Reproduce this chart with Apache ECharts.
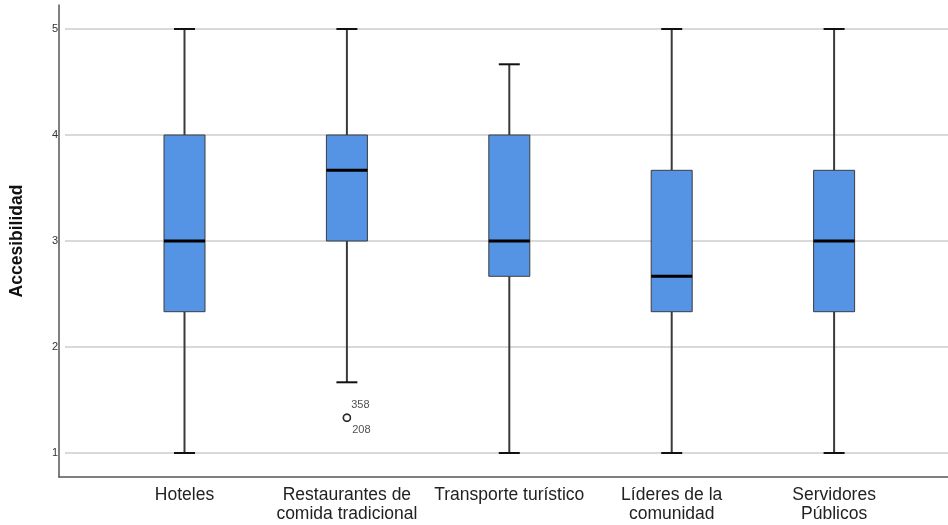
<!DOCTYPE html>
<html>
<head>
<meta charset="utf-8">
<script src="https://cdn.jsdelivr.net/npm/echarts@6/dist/echarts.min.js"></script>
<style>
  html, body { margin: 0; padding: 0; background: #fff; }
  #chart { width: 948px; height: 525px; }
</style>
</head>
<body>
<div id="chart"></div>
<script>
// Categories along the horizontal axis
const categories = [
  'Hoteles',
  'Restaurantes de\ncomida tradicional',
  'Transporte turístico',
  'Líderes de la\ncomunidad',
  'Servidores\nPúblicos'
];

// Five-number summaries per category
const whiskerLow  = [1, 1.667, 1, 1, 1];
const quartile1   = [2.333, 3, 2.667, 2.333, 2.333];
const medianVals  = [3, 3.667, 3, 2.667, 3];
const quartile3   = [4, 4, 4, 3.667, 3.667];
const whiskerHigh = [5, 5, 4.667, 5, 5];

// Outlying cases (category, value, case number)
const outlierCategory = ['Restaurantes de\ncomida tradicional', 'Restaurantes de\ncomida tradicional'];
const outlierValue = [1.333, 1.333];
const outlierCase = ['358', '208'];

// Value axis ticks
const yTicks = [1, 2, 3, 4, 5];

const FONT = "'Liberation Sans', Arial, sans-serif";
const BOX_FILL = '#5594e4';

const boxData = categories.map((c, i) => [i, whiskerLow[i], quartile1[i], medianVals[i], quartile3[i], whiskerHigh[i]]);

function renderBox(params, api) {
  const idx = api.value(0);
  const pLow = api.coord([idx, api.value(1)]);
  const pQ1 = api.coord([idx, api.value(2)]);
  const pMed = api.coord([idx, api.value(3)]);
  const pQ3 = api.coord([idx, api.value(4)]);
  const pHigh = api.coord([idx, api.value(5)]);
  const cx = pLow[0];
  const bw = 41, cw = 21;
  const whisker = { stroke: '#3a3a3a', lineWidth: 2 };
  const cap = { stroke: '#111', lineWidth: 2 };
  return {
    type: 'group',
    children: [
      { type: 'line', shape: { x1: cx, y1: pHigh[1], x2: cx, y2: pQ3[1] }, style: whisker },
      { type: 'line', shape: { x1: cx, y1: pQ1[1], x2: cx, y2: pLow[1] }, style: whisker },
      { type: 'line', shape: { x1: cx - cw / 2, y1: pHigh[1], x2: cx + cw / 2, y2: pHigh[1] }, style: cap },
      { type: 'line', shape: { x1: cx - cw / 2, y1: pLow[1], x2: cx + cw / 2, y2: pLow[1] }, style: cap },
      { type: 'rect', shape: { x: cx - bw / 2, y: pQ3[1], width: bw, height: pQ1[1] - pQ3[1] },
        style: { fill: BOX_FILL, stroke: '#3c3c3c', lineWidth: 1 } },
      { type: 'line', shape: { x1: cx - bw / 2, y1: pMed[1], x2: cx + bw / 2, y2: pMed[1] },
        style: { stroke: '#000', lineWidth: 3 } }
    ]
  };
}

const outlierData = outlierCategory.map((c, i) => ({
  value: [c, outlierValue[i]],
  label: {
    show: true,
    formatter: outlierCase[i],
    position: 'right',
    distance: 0,
    offset: i === 0 ? [0, -13] : [1, 12],
    fontSize: 11,
    fontFamily: FONT,
    color: '#222'
  }
}));

const chart = echarts.init(document.getElementById('chart'), null, { renderer: 'canvas' });
chart.setOption({
  animation: false,
  backgroundColor: '#fff',
  grid: [
    // boxes
    { left: 103.3, right: 32.7, top: 29, bottom: 72 },
    // value ticks + grid lines
    { left: 59, right: 0, top: 29, bottom: 72 },
    // outer axis frame
    { left: 59, right: 0, top: 5, bottom: 48 }
  ],
  xAxis: [
    {
      gridIndex: 0, type: 'category', data: categories,
      axisLine: { show: false }, axisTick: { show: false },
      axisLabel: { margin: 33, fontSize: 17.5, lineHeight: 19, fontFamily: FONT, color: '#222', interval: 0 }
    },
    { gridIndex: 1, type: 'value', min: 0, max: 1, show: false },
    {
      gridIndex: 2, type: 'value', min: 0, max: 1,
      axisLine: { show: true, lineStyle: { color: '#555', width: 1.5 } },
      axisTick: { show: false }, axisLabel: { show: false }, splitLine: { show: false }
    }
  ],
  yAxis: [
    { gridIndex: 0, type: 'value', min: yTicks[0], max: yTicks[yTicks.length - 1], show: false },
    {
      gridIndex: 1, type: 'value', min: yTicks[0], max: yTicks[yTicks.length - 1], interval: 1,
      axisLine: { show: false }, axisTick: { show: false },
      axisLabel: { margin: 7, fontSize: 11, fontFamily: FONT, color: '#333' },
      splitLine: { show: true, lineStyle: { color: '#cccccc', width: 1.5 } },
      name: 'Accesibilidad', nameLocation: 'middle', nameGap: 39,
      nameTextStyle: { fontSize: 17.5, fontWeight: 'bold', fontFamily: FONT, color: '#111' }
    },
    {
      gridIndex: 2, type: 'value', min: 0, max: 1,
      axisLine: { show: true, lineStyle: { color: '#555', width: 1.5 } },
      axisTick: { show: false }, axisLabel: { show: false }, splitLine: { show: false }
    }
  ],
  series: [
    {
      type: 'custom', xAxisIndex: 0, yAxisIndex: 0,
      renderItem: renderBox,
      encode: { x: 0, y: [1, 2, 3, 4, 5] },
      data: boxData,
      z: 3
    },
    {
      type: 'scatter', xAxisIndex: 0, yAxisIndex: 0,
      symbol: 'circle', symbolSize: 7,
      itemStyle: { color: '#fff', borderColor: '#111', borderWidth: 1.5 },
      data: outlierData,
      z: 4
    }
  ]
});
</script>
</body>
</html>
